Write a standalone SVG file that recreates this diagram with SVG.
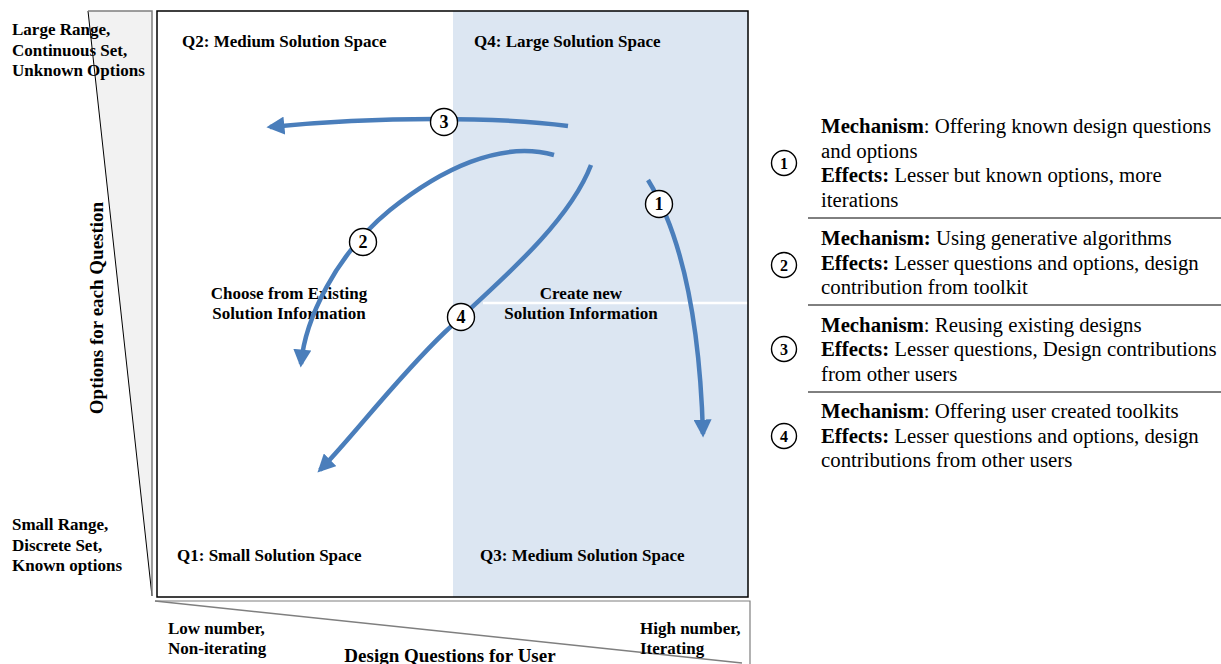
<svg xmlns="http://www.w3.org/2000/svg" width="1221" height="664" viewBox="0 0 1221 664">
<style>
text{font-family:"Liberation Serif","Times New Roman",Times,serif;fill:#000}
.b{font-weight:bold;font-size:17px}
.t{font-weight:bold;font-size:19px}
.lg{font-size:20.8px}
.arr{fill:none;stroke:#4a7ebb;stroke-width:4.5;stroke-linecap:butt}
.num{fill:#fff;stroke:#000;stroke-width:1.4}
.nt{font-weight:bold;font-size:18px;text-anchor:middle}
.sep{stroke:#000;stroke-width:1}
</style>
<defs>
<marker id="ah" viewBox="0 0 10 10" refX="8" refY="5" markerWidth="4" markerHeight="4" orient="auto" markerUnits="strokeWidth">
<path d="M0,0 L10,5 L0,10 Z" fill="#4a7ebb"/>
</marker>
</defs>
<rect width="1221" height="664" fill="#fff"/>
<g id="axis-left">
<polygon points="88,11 152,11 152,596" fill="#f2f2f2"/>
<line x1="88" y1="11" x2="152" y2="596" stroke="#000" stroke-width="1"/>
<polyline points="88,11 152,11 152,596" fill="none" stroke="#7f7f7f" stroke-width="1.5"/>
<text class="b" x="12" y="35">Large Range,</text>
<text class="b" x="12" y="56">Continuous Set,</text>
<text class="b" x="12" y="76">Unknown Options</text>
<text class="b" x="12" y="530">Small Range,</text>
<text class="b" x="12" y="551">Discrete Set,</text>
<text class="b" x="12" y="571">Known options</text>
<text class="t" text-anchor="middle" transform="translate(103,308) rotate(-90)">Options for each Question</text>
</g>
<g id="axis-bottom">
<polygon points="155,601 750,601 750,664 740,664" fill="#fff" stroke="none"/>
<polyline points="155,601 750,601 750,664" fill="none" stroke="#7f7f7f" stroke-width="1.2"/>
<line x1="155" y1="601" x2="742" y2="663" stroke="#7f7f7f" stroke-width="1.5"/>
<text class="b" x="168" y="634">Low number,</text>
<text class="b" x="168" y="654">Non-iterating</text>
<text class="b" x="640" y="634">High number,</text>
<text class="b" x="640" y="654">Iterating</text>
<text class="t" x="450" y="662" text-anchor="middle">Design Questions for User</text>
</g>
<g id="matrix">
<rect x="453" y="11" width="295" height="586" fill="#dce6f2"/>
<line x1="483" y1="303" x2="748" y2="303" stroke="#fff" stroke-width="2.5"/>
<rect x="157" y="11" width="591" height="586" fill="none" stroke="#000" stroke-width="1.5"/>
<text class="b" x="182" y="47">Q2: Medium Solution Space</text>
<text class="b" x="474" y="47">Q4: Large Solution Space</text>
<text class="b" x="177" y="561">Q1: Small Solution Space</text>
<text class="b" x="480" y="561">Q3: Medium Solution Space</text>
<text class="b" x="289" y="299" text-anchor="middle">Choose from Existing</text>
<text class="b" x="289" y="319" text-anchor="middle">Solution Information</text>
<text class="b" x="581" y="299" text-anchor="middle">Create new</text>
<text class="b" x="581" y="319" text-anchor="middle">Solution Information</text>
</g>
<g id="connectors">
<path class="arr" d="M568,126 C500,117 380,116 270,127" marker-end="url(#ah)"/>
<path class="arr" d="M554,155 C500,140 440,170 390,210 C335,255 305,320 301,364" marker-end="url(#ah)"/>
<path class="arr" d="M591,165 C568,225 495,285 445,332 C395,380 350,440 320,470" marker-end="url(#ah)"/>
<path class="arr" d="M648,180 C685,240 700,330 703,434" marker-end="url(#ah)"/>
</g>
<g id="marker-3"><circle class="num" cx="444" cy="122" r="13.5"/><text class="nt" x="444" y="128">3</text></g>
<g id="marker-2"><circle class="num" cx="363" cy="242" r="13.5"/><text class="nt" x="363" y="248">2</text></g>
<g id="marker-4"><circle class="num" cx="461" cy="317" r="13.5"/><text class="nt" x="461" y="323">4</text></g>
<g id="marker-1"><circle class="num" cx="659" cy="204" r="13.5"/><text class="nt" x="659" y="210">1</text></g>
<g id="legend">
<line class="sep" x1="808" y1="218" x2="1221" y2="218"/>
<line class="sep" x1="808" y1="305" x2="1221" y2="305"/>
<line class="sep" x1="808" y1="392" x2="1221" y2="392"/>
<g id="legend-1">
<circle class="num" cx="784" cy="163" r="12.5"/><text class="nt" style="font-size:16px" x="784" y="169">1</text>
<text class="lg" x="821" y="133"><tspan font-weight="bold">Mechanism</tspan>: Offering known design questions</text>
<text class="lg" x="821" y="158">and options</text>
<text class="lg" x="821" y="182"><tspan font-weight="bold">Effects:</tspan> Lesser but known options, more</text>
<text class="lg" x="821" y="207">iterations</text>
</g>
<g id="legend-2">
<circle class="num" cx="784" cy="265" r="12.5"/><text class="nt" style="font-size:16px" x="784" y="271">2</text>
<text class="lg" x="821" y="245"><tspan font-weight="bold">Mechanism:</tspan> Using generative algorithms</text>
<text class="lg" x="821" y="270"><tspan font-weight="bold">Effects:</tspan> Lesser questions and options, design</text>
<text class="lg" x="821" y="294">contribution from toolkit</text>
</g>
<g id="legend-3">
<circle class="num" cx="784" cy="349" r="12.5"/><text class="nt" style="font-size:16px" x="784" y="355">3</text>
<text class="lg" x="821" y="332"><tspan font-weight="bold">Mechanism</tspan>: Reusing existing designs</text>
<text class="lg" x="821" y="356"><tspan font-weight="bold">Effects:</tspan> Lesser questions, Design contributions</text>
<text class="lg" x="821" y="381">from other users</text>
</g>
<g id="legend-4">
<circle class="num" cx="784" cy="436" r="12.5"/><text class="nt" style="font-size:16px" x="784" y="442">4</text>
<text class="lg" x="821" y="418"><tspan font-weight="bold">Mechanism</tspan>: Offering user created toolkits</text>
<text class="lg" x="821" y="443"><tspan font-weight="bold">Effects:</tspan> Lesser questions and options, design</text>
<text class="lg" x="821" y="467">contributions from other users</text>
</g>
</g>
</svg>
